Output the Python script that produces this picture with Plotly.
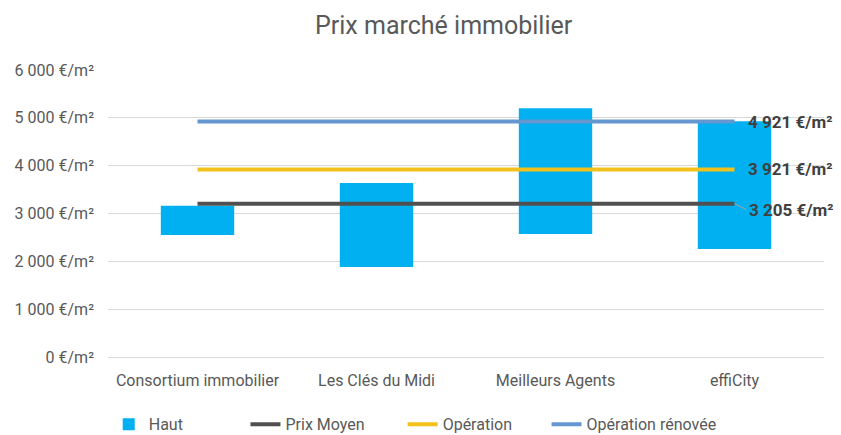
import plotly.graph_objects as go

categories = ["Consortium immobilier", "Les Clés du Midi", "Meilleurs Agents", "effiCity"]
bas = [2550, 1880, 2570, 2260]
haut = [3160, 3640, 5200, 4930]
prix_moyen = [3205, 3205, 3205, 3205]
operation = [3921, 3921, 3921, 3921]
operation_renovee = [4921, 4921, 4921, 4921]
tick_vals = [0, 1000, 2000, 3000, 4000, 5000, 6000]
tick_text = ["0 €/m²", "1 000 €/m²", "2 000 €/m²", "3 000 €/m²", "4 000 €/m²", "5 000 €/m²", "6 000 €/m²"]
end_labels = ["3 205 €/m²", "3 921 €/m²", "4 921 €/m²"]

grey = "#595959"
font_family = "Roboto, 'Noto Sans', sans-serif"

fig = go.Figure()
fig.add_trace(go.Bar(
    x=categories, y=[h - b for h, b in zip(haut, bas)], base=bas,
    name="Haut", marker=dict(color="#00B0F0", line=dict(width=0)), width=0.41,
    legend="legend",
))
fig.add_trace(go.Scatter(x=categories, y=prix_moyen, mode="lines", name="Prix Moyen",
                         line=dict(color="#505050", width=4), legend="legend2"))
fig.add_trace(go.Scatter(x=categories, y=operation, mode="lines", name="Opération",
                         line=dict(color="#F2C11C", width=4), legend="legend3"))
fig.add_trace(go.Scatter(x=categories, y=operation_renovee, mode="lines", name="Opération rénovée",
                         line=dict(color="#6496D0", width=4), legend="legend4"))

series_end = [prix_moyen[-1], operation[-1], operation_renovee[-1]]
for i, (val, lab) in enumerate(zip(series_end, end_labels)):
    if i == 0:
        fig.add_annotation(x=categories[-1], y=val, text="<b>" + lab + "</b>", showarrow=True,
                           arrowhead=0, arrowwidth=1, arrowcolor="#A6A6A6", standoff=0,
                           ax=12, ay=6, xanchor="left", yanchor="middle",
                           font=dict(size=17, color="#404040", family=font_family))
    else:
        fig.add_annotation(x=categories[-1], y=val, text="<b>" + lab + "</b>", showarrow=False,
                           xanchor="left", xshift=11,
                           font=dict(size=17, color="#404040", family=font_family))

leg_common = dict(orientation="h", xanchor="left", y=-0.175, yanchor="top",
                  font=dict(size=16, color=grey, family=font_family), bgcolor="rgba(0,0,0,0)")
fig.update_layout(
    width=833, height=427,
    paper_bgcolor="white", plot_bgcolor="white",
    margin=dict(l=100, r=17, t=62, b=78, autoexpand=False),
    title=dict(text="Prix marché immobilier", x=0.523, xanchor="center", y=0.96, yanchor="middle",
               font=dict(size=25, color=grey, family=font_family)),
    font=dict(family=font_family, color=grey, size=16),
    showlegend=True,
    legend=dict(x=0.001, **leg_common),
    legend2=dict(x=0.192, **leg_common),
    legend3=dict(x=0.4115, **leg_common),
    legend4=dict(x=0.6125, **leg_common),
)
fig.update_xaxes(range=[-0.5, 3.5], showgrid=False, showline=False, ticks="", tickangle=0,
                 automargin=False, ticklabelstandoff=12, tickfont=dict(size=16, color=grey))
fig.update_yaxes(range=[0, 6000], tickvals=tick_vals, ticktext=tick_text, automargin=False,
                 showgrid=True, gridcolor="#D9D9D9", gridwidth=1, zeroline=True,
                 zerolinecolor="#D9D9D9", zerolinewidth=1, ticks="", ticklen=0,
                 ticklabelstandoff=13, tickfont=dict(size=16, color=grey))

fig.write_html("out.html")
